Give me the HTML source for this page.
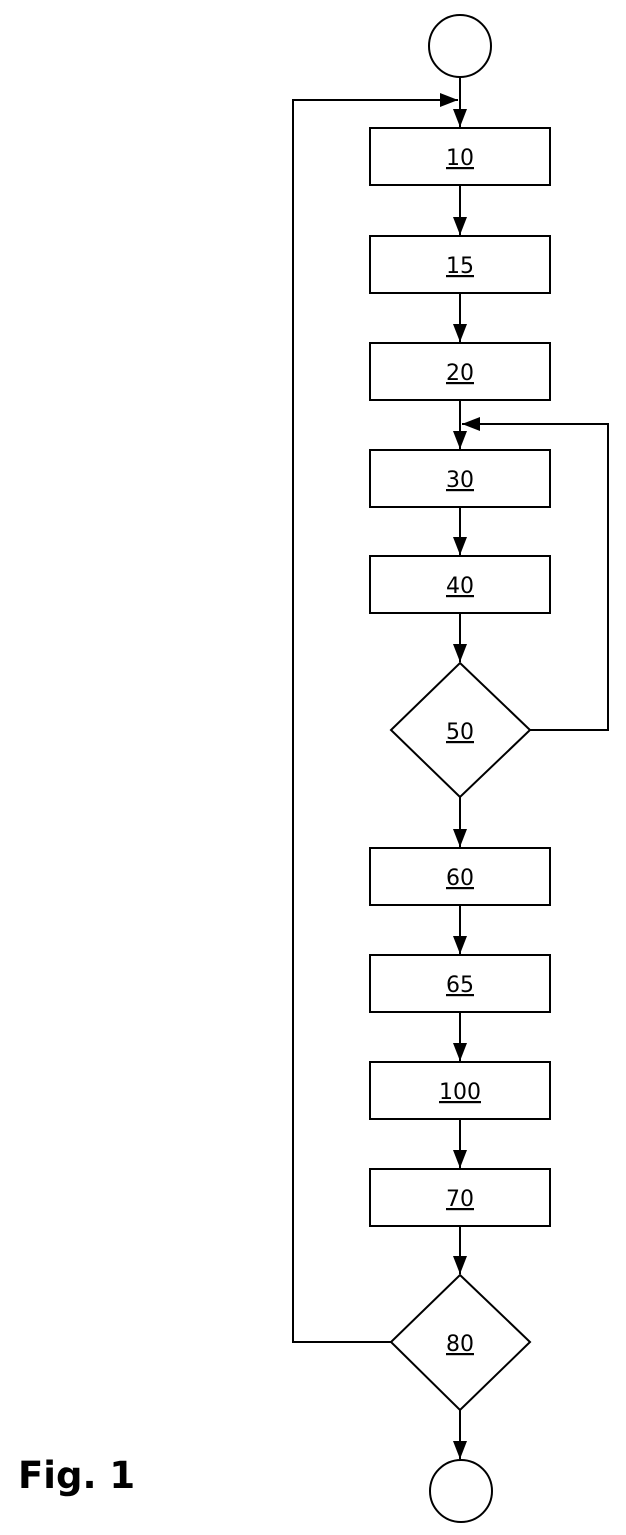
<!DOCTYPE html>
<html><head><style>body{margin:0;background:#fff}svg{display:block}</style></head><body>
<svg width="626" height="1535" viewBox="0 0 626 1535" xmlns="http://www.w3.org/2000/svg" font-family="Liberation Sans, sans-serif">
<defs><marker id="a" markerWidth="20" markerHeight="20" refX="18" refY="10" orient="auto" markerUnits="userSpaceOnUse"><path d="M0,3 L18,10 L0,17 Z" fill="#000"/></marker></defs>
<g fill="none" stroke="#000" stroke-width="2">
<circle cx="460" cy="46" r="31"/>
<circle cx="461" cy="1491" r="31"/>
<rect x="370" y="128" width="180" height="57"/>
<rect x="370" y="236" width="180" height="57"/>
<rect x="370" y="343" width="180" height="57"/>
<rect x="370" y="450" width="180" height="57"/>
<rect x="370" y="556" width="180" height="57"/>
<rect x="370" y="848" width="180" height="57"/>
<rect x="370" y="955" width="180" height="57"/>
<rect x="370" y="1062" width="180" height="57"/>
<rect x="370" y="1169" width="180" height="57"/>
<polygon points="460,663 530,730 460,797 391,730"/>
<polygon points="460,1275 530,1342 460,1410 391,1342"/>
<g marker-end="url(#a)">
<line x1="460" y1="77" x2="460" y2="127"/>
<line x1="460" y1="185" x2="460" y2="235"/>
<line x1="460" y1="293" x2="460" y2="342"/>
<line x1="460" y1="400" x2="460" y2="449"/>
<line x1="460" y1="507" x2="460" y2="555"/>
<line x1="460" y1="613" x2="460" y2="662"/>
<line x1="460" y1="797" x2="460" y2="847"/>
<line x1="460" y1="905" x2="460" y2="954"/>
<line x1="460" y1="1012" x2="460" y2="1061"/>
<line x1="460" y1="1119" x2="460" y2="1168"/>
<line x1="460" y1="1226" x2="460" y2="1274"/>
<line x1="460" y1="1410" x2="460" y2="1459"/>
<polyline points="391,1342 293,1342 293,100 458,100"/>
<polyline points="530,730 608,730 608,424 462,424"/>
</g>
</g>
<g font-size="22" text-anchor="middle" text-decoration="underline" fill="#000" font-family="DejaVu Sans, sans-serif">
<text x="460" y="165">10</text>
<text x="460" y="273">15</text>
<text x="460" y="380">20</text>
<text x="460" y="487">30</text>
<text x="460" y="593">40</text>
<text x="460" y="739">50</text>
<text x="460" y="885">60</text>
<text x="460" y="992">65</text>
<text x="460" y="1099">100</text>
<text x="460" y="1206">70</text>
<text x="460" y="1351">80</text>
</g>
<text x="18" y="1488" font-size="37" font-weight="bold" fill="#000" font-family="DejaVu Sans, sans-serif">Fig. 1</text>
</svg>
</body></html>
